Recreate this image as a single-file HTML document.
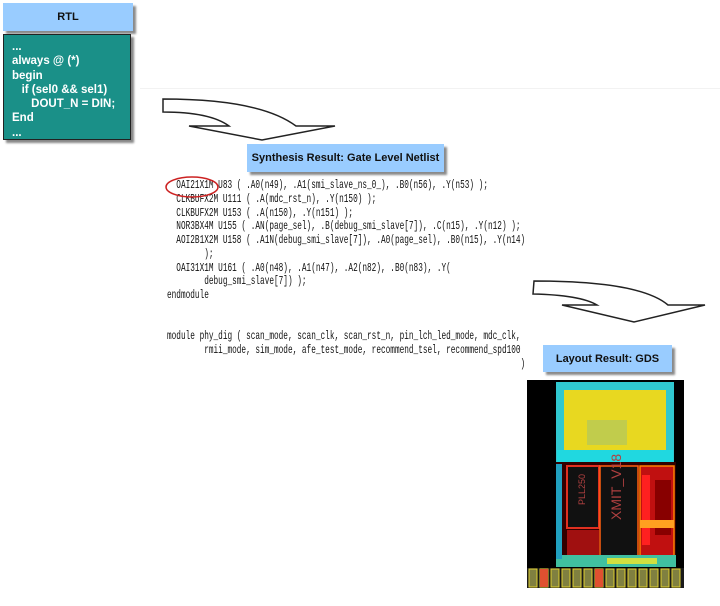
<!DOCTYPE html>
<html><head><meta charset="utf-8"><style>
body{margin:0;width:720px;height:606px;background:#fff;position:relative;overflow:hidden;font-family:"Liberation Sans",sans-serif}
.hdr{position:absolute;background:#99ccff;box-shadow:3px 3px 2px #8a8a8a;font-weight:bold;font-size:11px;display:flex;align-items:center;justify-content:center;color:#111}
#rtl{position:absolute;left:3px;top:34px;width:128px;height:106px;background:#1a9088;border:1.5px solid #222;box-shadow:3px 3px 2px #888;color:#fff;font-weight:bold;font-size:11.5px;line-height:14.3px;padding-top:5px;box-sizing:border-box;padding-left:8px;white-space:pre;overflow:hidden}
pre{position:absolute;margin:0;font-family:"Liberation Mono",monospace;font-size:12px;line-height:13.75px;transform:scaleX(0.646);transform-origin:0 0;color:#111}
</style></head><body>
<div style="position:absolute;left:140px;top:88px;width:580px;height:1px;background:#f2f2f2"></div>
<div class="hdr" style="left:3px;top:3px;width:130px;height:28px">RTL</div>
<div id="rtl">...
always @ (*)
begin
   if (sel0 &amp;&amp; sel1)
      DOUT_N = DIN;
End
...</div>
<div class="hdr" style="left:247px;top:144px;width:197px;height:28px">Synthesis Result: Gate Level Netlist</div>
<pre style="left:167px;top:179px">  OAI21X1M U83 ( .A0(n49), .A1(smi_slave_ns_0_), .B0(n56), .Y(n53) );
  CLKBUFX2M U111 ( .A(mdc_rst_n), .Y(n150) );
  CLKBUFX2M U153 ( .A(n150), .Y(n151) );
  NOR3BX4M U155 ( .AN(page_sel), .B(debug_smi_slave[7]), .C(n15), .Y(n12) );
  AOI2B1X2M U158 ( .A1N(debug_smi_slave[7]), .A0(page_sel), .B0(n15), .Y(n14)
        );
  OAI31X1M U161 ( .A0(n48), .A1(n47), .A2(n82), .B0(n83), .Y(
        debug_smi_slave[7]) );
endmodule


module phy_dig ( scan_mode, scan_clk, scan_rst_n, pin_lch_led_mode, mdc_clk,
        rmii_mode, sim_mode, afe_test_mode, recommend_tsel, recommend_spd100
                                                                            )</pre>
<div style="position:absolute;left:528px;top:180px;width:192px;height:95px;background:#fff"></div>
<svg style="position:absolute;left:0;top:0" width="720" height="606">
<path d="M163,99 Q260,99 296,126 L335,126 L262,140 L189,126 L229,126 Q210,112 163,112 Z" fill="#fff" stroke="#222" stroke-width="1.5"/>
<path d="M534,281 Q640,281 668,305 L705,305 L634,322 L562,305 L597,305 Q580,295 533,294 Z" fill="#fff" stroke="#222" stroke-width="1.5"/>
<ellipse cx="192" cy="187" rx="26" ry="10" fill="none" stroke="#cc2222" stroke-width="1.5"/>
</svg>
<div class="hdr" style="left:543px;top:345px;width:129px;height:27px">Layout Result: GDS</div>
<svg style="position:absolute;left:527px;top:380px" width="157" height="208">
<rect width="157" height="208" fill="#000"/>
<rect x="29" y="2" width="118" height="80" fill="#30c8d0"/>
<rect x="37" y="10" width="102" height="66" fill="#e8d820"/>
<rect x="60" y="40" width="40" height="25" fill="#b0c860" opacity=".7"/>
<rect x="30" y="70" width="116" height="12" fill="#20d8e0"/>
<rect x="29" y="82" width="120" height="100" fill="#300" />
<rect x="40" y="86" width="32" height="62" fill="#111" stroke="#e03020" stroke-width="2"/>
<rect x="73" y="86" width="38" height="95" fill="#111" stroke="#ff6010" stroke-width="1.5"/>
<rect x="113" y="86" width="34" height="90" fill="#c01010" stroke="#ff8000" stroke-width="1.5"/>
<rect x="115" y="95" width="8" height="70" fill="#ff2020"/>
<rect x="128" y="100" width="16" height="55" fill="#800" />
<rect x="113" y="140" width="34" height="8" fill="#ffa020"/>
<rect x="40" y="150" width="32" height="30" fill="#a01010"/>
<rect x="29" y="175" width="120" height="12" fill="#40c0a0"/>
<rect x="80" y="178" width="50" height="6" fill="#d0e040"/>
<rect x="29" y="84" width="6" height="95" fill="#20a0c0"/>
<text x="94" y="140" fill="#b04040" font-size="14" font-family="Liberation Sans" transform="rotate(-90 94 140)">XMIT_V18</text>
<text x="58" y="125" fill="#b04040" font-size="9" font-family="Liberation Sans" transform="rotate(-90 58 125)">PLL250</text>
<rect x="0" y="188" width="157" height="20" fill="#1a1a1a"/>
<g fill="#808040" stroke="#e0d030" stroke-width="1">
<rect x="2" y="189" width="8" height="18"/><rect x="13" y="189" width="8" height="18"/><rect x="24" y="189" width="8" height="18"/><rect x="35" y="189" width="8" height="18"/><rect x="46" y="189" width="8" height="18"/><rect x="57" y="189" width="8" height="18"/><rect x="68" y="189" width="8" height="18"/><rect x="79" y="189" width="8" height="18"/><rect x="90" y="189" width="8" height="18"/><rect x="101" y="189" width="8" height="18"/><rect x="112" y="189" width="8" height="18"/><rect x="123" y="189" width="8" height="18"/><rect x="134" y="189" width="8" height="18"/><rect x="145" y="189" width="8" height="18"/>
</g>
<rect x="13" y="189" width="8" height="18" fill="#e05030"/><rect x="68" y="189" width="8" height="18" fill="#e05030"/>
</svg>
</body></html>
